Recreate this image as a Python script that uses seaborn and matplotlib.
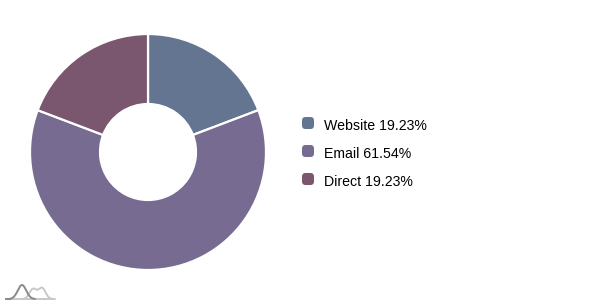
import matplotlib
matplotlib.use("Agg")
import matplotlib.pyplot as plt
from matplotlib.patches import FancyBboxPatch
import numpy as np
import seaborn as sns

categories = ["Website", "Email", "Direct"]
values = [5, 16, 5]
percent_labels = ["19.23%", "61.54%", "19.23%"]
colors = ["#647591", "#776b91", "#7a566f"]

sns.set_theme(style="white")
plt.rcParams["font.family"] = ["Liberation Sans", "DejaVu Sans"]

W, H = 596, 305
fig = plt.figure(figsize=(W / 100, H / 100), dpi=100)

# donut
cx, cy, r = 148, 152, 118
ax = fig.add_axes([(cx - r) / W, (H - cy - r) / H, 2 * r / W, 2 * r / H])
ax.pie(values, colors=colors, startangle=90, counterclock=False, radius=1,
       wedgeprops=dict(width=1 - 48 / 118, edgecolor="white", linewidth=1.6))
ax.set_xlim(-1, 1)
ax.set_ylim(-1, 1)
ax.set_aspect("equal")
ax.axis("off")

# legend
ys = [123, 151, 179]
for cat, pct, col, y in zip(categories, percent_labels, colors, ys):
    s = 12
    box = FancyBboxPatch(((302) / W, (H - y - s / 2) / H), s / W, s / H,
                         boxstyle="round,pad=0,rounding_size=0.006",
                         transform=fig.transFigure, facecolor=col, edgecolor="none",
                         mutation_aspect=W / H)
    fig.patches.append(box)
    fig.text(324 / W, (H - y - 1.5) / H, f"{cat} {pct}", fontsize=10.2, color="#000000",
             va="center_baseline", ha="left")

# small logo (pixel coordinates: x 0..60, y measured upward from image bottom)
lax = fig.add_axes([0, 0, 60 / W, 25 / H])
lax.set_xlim(0, 60)
lax.set_ylim(0, 25)
base = 305 - 299
lax.plot([5, 55], [base, base], color="#c8c8c8", lw=1.4, solid_capstyle="butt")
xl = np.linspace(20, 55, 200)
light = base + 10 * np.exp(-((xl - 33) / 5) ** 2) + 11 * np.exp(-((xl - 42) / 5) ** 2)
lax.plot(xl, light, color="#c8c8c8", lw=1.4)
lax.plot([5, 11], [base, base], color="#8a8a8a", lw=1.4, solid_capstyle="butt")
xx = np.linspace(10, 35, 200)
lax.plot(xx, base + 14 * np.exp(-((xx - 22) / 6) ** 2), color="#8a8a8a", lw=1.4)
lax.axis("off")

fig.savefig("out.png", dpi=100, facecolor="white")
